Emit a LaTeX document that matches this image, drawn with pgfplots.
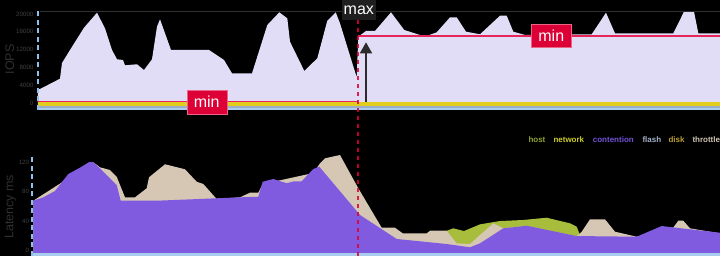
\documentclass[border=0pt]{standalone}
\usepackage{fontspec}
\setmainfont{Liberation Sans}
\usepackage{pgfplots}
\pgfplotsset{compat=1.18}
\usetikzlibrary{arrows.meta}
\definecolor{lav}{HTML}{E2DDF6}
\definecolor{purp}{HTML}{805BE0}
\definecolor{beige}{HTML}{D6C6B4}
\definecolor{hostg}{HTML}{A8BD3B}
\definecolor{yband}{HTML}{E2CD1F}
\definecolor{gband}{HTML}{9AAEC8}
\definecolor{bband}{HTML}{A8CCEE}
\definecolor{dashblue}{HTML}{8CC0EE}
\definecolor{minred}{HTML}{DC0036}
\definecolor{maxgray}{HTML}{1F1F1F}
\definecolor{minline}{HTML}{E8245A}
\definecolor{tickgray}{HTML}{404040}
\definecolor{labelgray}{HTML}{303030}
\definecolor{lhost}{HTML}{8FA234}
\definecolor{lnet}{HTML}{CDCC25}
\definecolor{lcont}{HTML}{7352D6}
\definecolor{lflash}{HTML}{A3B2CA}
\definecolor{ldisk}{HTML}{BBA035}
\definecolor{lthr}{HTML}{CDC3B3}
\definecolor{arrowgray}{HTML}{2B2B2B}

\pgfplotstableread{
x v
38 3200
40 3200
60 5510
62 9030
70 11940
84 16930
97 20290
105 16800
112 11940
117 9860
123 9700
125 8510
137 8740
144 7460
152 9860
157 17160
160 18820
171 11940
209 11940
224 9700
232 6720
252 6720
267.3 17540
279.3 20380
287.3 19040
290 13800
304.3 7240
317.3 10080
327.3 18500
335.7 20380
340 17920
356.7 5820
358.3 14920
366 16200
375 16200
391 20380
404.3 16420
420 15300
426.7 15080
436.7 15900
450 19260
456.7 19260
466 16040
480 15460
500 19620
506.7 19620
513.3 16040
525 15300
591.7 15460
606 20290
615 15680
673.3 15680
684 20520
694 20520
698.3 15680
720 15680
720 -1500
38 -1500
}\iops

\pgfplotstableread{
x v
38 420
358 420
358 nan
358 15140
720 15140
}\minio

\pgfplotstableread{
x v
33.3 67.4
43.3 72.0
55 80.6
68.3 103.7
80 112.3
89.3 120.0
93.3 119.6
100 111.4
116.7 88.7
120.7 67.4
156.7 67.4
240 72.0
258.3 72.8
262.7 93.2
273.3 96.9
286.7 91.1
294 93.8
301.7 93.8
313.3 110.5
319.3 113.6
360 48.0
396.7 15.4
446.7 8.6
470 4.1
480 9.5
503.3 29.9
526.7 33.4
576.7 19.4
636.7 18.5
661.7 33.0
720 23.9
720 -7.7
33.3 -7.7
}\contention

\pgfplotstableread{
x v
33.3 67.4
93.3 119.6
100 112.8
110 109.1
116.7 100.0
125 72.0
135 72.0
146.7 84.3
149 99.2
165 116.9
185 110.1
196.7 93.2
203.3 90.1
216.7 69.7
240 72.0
250 78.3
258.3 78.3
262.7 90.0
313.3 105.0
320 118.2
325 125.0
340 129.5
358.3 84.3
381.7 30.7
395 30.7
402.7 23.1
426.7 23.1
430 26.6
446.7 26.6
456.7 9.5
470 8.6
480 20.8
493.3 36.7
503.3 29.9
526.7 33.0
576.7 19.0
581.7 25.3
590 42.1
605 42.1
615 25.3
636.7 18.5
673 30.5
678.3 40.2
683.3 40.2
690 29.9
720 23.0
720 -7.7
33.3 -7.7
}\throttle

\pgfplotstableread{
x v
440 20.0
446.7 26.6
453.3 29.9
464 26.2
480 35.3
500 39.8
523 41.2
546.7 44.3
570 36.7
576.7 32.1
580 20.8
590 0
590 -7.7
440 -7.7
}\host

\begin{document}
\begin{tikzpicture}[x=1pt,y=1pt]
\useasboundingbox (0,0) rectangle (720,256);
\fill[black] (0,0) rectangle (720,256);

% ---------- top chart: IOPS ----------
\begin{axis}[
  at={(38pt,146pt)}, anchor=south west, scale only axis,
  width=682pt, height=99pt,
  xmin=38, xmax=720, ymin=-1500, ymax=20675,
  axis line style={draw=none}, tick style={draw=none},
  xtick=\empty, ytick={0,4000,8000,12000,16000,20000},
  scaled y ticks=false,
  unbounded coords=jump,
  /pgf/number format/set thousands separator={},
  /pgf/number format/assume math mode=true,
  yticklabel style={font=\fontsize{6.2}{7}\selectfont, text=tickgray, anchor=east, inner sep=0pt, xshift=-4.4pt},
  clip=false,
]
\addplot[fill=lav, draw=none] table[x=x,y=v] {\iops} -- cycle;
\addplot[fill=yband, draw=none] coordinates {(38,180) (720,180) (720,-560) (38,-560)} -- cycle;
\addplot[fill=gband, draw=none] coordinates {(38,-560) (720,-560) (720,-1120) (38,-1120)} -- cycle;
\addplot[fill=bband, draw=none] coordinates {(38,-1120) (720,-1120) (720,-1500) (38,-1500)} -- cycle;
\addplot[color=minline, line width=1.6pt, mark=none] table[x=x,y=v] {\minio};
\draw[arrowgray, line width=1.7pt, -{Triangle[width=12pt,length=11pt]}] (axis cs:366,224) -- (axis cs:366,13660);
\draw[color=labelgray, line width=0.8pt] (axis cs:40,20675) -- (axis cs:720,20675);
\draw[dashblue, line width=1.8pt, dash pattern=on 5pt off 3.5pt] (axis cs:38,-1500) -- (axis cs:38,20900);
\end{axis}

% ---------- bottom chart: latency ----------
\begin{axis}[
  at={(32.3pt,0pt)}, anchor=south west, scale only axis,
  width=687.7pt, height=101.36pt,
  xmin=32.3, xmax=720, ymin=-7.7, ymax=130,
  axis line style={draw=none}, tick style={draw=none},
  xtick=\empty, ytick={0,40,80,120},
  /pgf/number format/assume math mode=true,
  yticklabel style={font=\fontsize{6.2}{7}\selectfont, text=tickgray, anchor=east, inner sep=0pt, xshift=-3pt},
  clip=false,
]
\addplot[fill=hostg, draw=none] table[x=x,y=v] {\host} -- cycle;
\addplot[fill=beige, draw=none] table[x=x,y=v] {\throttle} -- cycle;
\addplot[fill=purp, draw=none] table[x=x,y=v] {\contention} -- cycle;
\addplot[fill=bband, draw=none] coordinates {(32.3,-4.1) (720,-4.1) (720,-7.7) (32.3,-7.7)} -- cycle;
\draw[dashblue, line width=1.8pt, dash pattern=on 5pt off 3.5pt] (axis cs:32.3,-7.7) -- (axis cs:32.3,128.2);
\end{axis}

% y labels
\node[rotate=90, anchor=base, font=\fontsize{12.5}{14}\selectfont, text=labelgray, inner sep=0pt] at (14,196.5) {IOPS};
\node[rotate=90, anchor=base, font=\fontsize{12.5}{14}\selectfont, text=labelgray, inner sep=0pt] at (13.3,49.3) {Latency ms};

% max marker line
\draw[minred, opacity=0.85, line width=1.3pt, dash pattern=on 4.5pt off 3.5pt] (358,236) -- (358,0);

% annotation boxes
\node[fill=maxgray, text=white, font=\fontsize{16}{18}\selectfont, minimum width=34.3pt, minimum height=20pt, inner sep=0pt] at (358.8,246) {max};
\node[fill=minred, draw=minred!60!white, line width=0.4pt, text=white, font=\fontsize{16}{18}\selectfont, minimum width=40pt, minimum height=24pt, inner sep=0pt] at (206.7,154) {min};
\node[fill=minred, draw=minred!60!white, line width=0.4pt, text=white, font=\fontsize{16}{18}\selectfont, minimum width=39.3pt, minimum height=23.3pt, inner sep=0pt] at (551.3,220.3) {min};

% legend
\begin{scope}[every node/.style={anchor=base west, inner sep=0pt, font=\fontsize{8}{9}\selectfont\bfseries}]
\node[text=lhost] at (528.3,113) {host};
\node[text=lnet] at (553.3,113) {network};
\node[text=lcont] at (592.7,113) {contention};
\node[text=lflash] at (642.3,113) {flash};
\node[text=ldisk] at (668.3,113) {disk};
\node[text=lthr] at (692.3,113) {throttle};
\end{scope}
\end{tikzpicture}
\end{document}
